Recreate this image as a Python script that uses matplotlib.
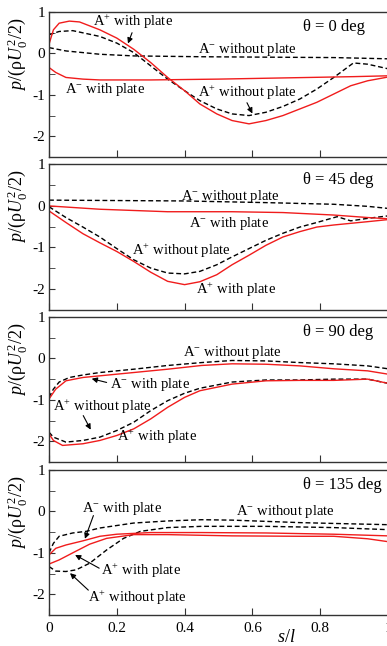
import numpy as np
import matplotlib as mpl
mpl.use('Agg')
import matplotlib.pyplot as plt
from matplotlib.ticker import MultipleLocator, FormatStrFormatter

plt.rcParams['font.family'] = ['Liberation Serif', 'DejaVu Serif']
plt.rcParams['mathtext.fontset'] = 'custom'
plt.rcParams['mathtext.rm'] = 'Liberation Serif'
plt.rcParams['mathtext.it'] = 'Liberation Serif:italic'
plt.rcParams['axes.unicode_minus'] = False

# ---- data: (s/l, p/(rho U0^2/2)) ----
# theta = 0 deg
s0_ap_wp = [0.0, 0.013, 0.03, 0.06, 0.09, 0.15, 0.2, 0.25, 0.3, 0.35, 0.4, 0.445, 0.495, 0.54, 0.59, 0.64, 0.69, 0.74, 0.79, 0.84, 0.89, 0.94, 1.0]
p0_ap_wp = [0.22, 0.57, 0.73, 0.78, 0.76, 0.57, 0.37, 0.1, -0.22, -0.58, -0.9, -1.22, -1.46, -1.62, -1.7, -1.62, -1.5, -1.34, -1.18, -0.98, -0.78, -0.66, -0.57]
s0_am_wp = [0.0, 0.02, 0.05, 0.1, 0.15, 0.3, 0.5, 0.7, 0.9, 1.0]
p0_am_wp = [-0.34, -0.46, -0.58, -0.62, -0.64, -0.64, -0.62, -0.59, -0.56, -0.54]
s0_ap_np = [0.0, 0.03, 0.07, 0.15, 0.2, 0.25, 0.3, 0.35, 0.4, 0.445, 0.495, 0.54, 0.59, 0.64, 0.69, 0.74, 0.79, 0.84, 0.898, 0.94, 1.0]
p0_ap_np = [0.45, 0.53, 0.55, 0.41, 0.25, 0.02, -0.3, -0.62, -0.9, -1.14, -1.34, -1.46, -1.5, -1.42, -1.28, -1.1, -0.86, -0.58, -0.23, -0.26, -0.37]
s0_am_np = [0.0, 0.05, 0.15, 0.25, 0.45, 0.64, 0.84, 1.0]
p0_am_np = [0.14, 0.06, -0.02, -0.06, -0.08, -0.09, -0.1, -0.13]

# theta = 45 deg
s45_ap_wp = [0.0, 0.05, 0.1, 0.15, 0.2, 0.25, 0.3, 0.35, 0.4, 0.445, 0.495, 0.54, 0.59, 0.64, 0.69, 0.74, 0.79, 0.84, 0.89, 0.94, 1.0]
p45_ap_wp = [-0.12, -0.4, -0.67, -0.89, -1.1, -1.34, -1.6, -1.82, -1.9, -1.83, -1.66, -1.42, -1.19, -0.95, -0.75, -0.62, -0.51, -0.46, -0.42, -0.38, -0.33]
s45_am_wp = [0.0, 0.15, 0.35, 0.54, 0.69, 0.84, 0.94, 1.0]
p45_am_wp = [0.0, -0.08, -0.14, -0.14, -0.16, -0.22, -0.28, -0.31]
s45_ap_np = [0.0, 0.05, 0.1, 0.15, 0.2, 0.25, 0.3, 0.35, 0.4, 0.445, 0.495, 0.54, 0.59, 0.64, 0.69, 0.74, 0.79, 0.85, 0.89, 0.94, 1.0]
p45_ap_np = [-0.02, -0.28, -0.51, -0.75, -1.03, -1.3, -1.5, -1.62, -1.64, -1.58, -1.42, -1.23, -1.03, -0.83, -0.66, -0.51, -0.4, -0.26, -0.36, -0.3, -0.24]
s45_am_np = [0.0, 0.2, 0.4, 0.64, 0.84, 0.94, 1.0]
p45_am_np = [0.14, 0.13, 0.12, 0.08, 0.04, -0.01, -0.06]

# theta = 90 deg
s90_am_np = [0.0, 0.013, 0.03, 0.06, 0.1, 0.15, 0.25, 0.35, 0.45, 0.54, 0.64, 0.74, 0.84, 0.94, 1.0]
p90_am_np = [-0.94, -0.74, -0.57, -0.46, -0.4, -0.34, -0.26, -0.17, -0.1, -0.05, -0.06, -0.1, -0.13, -0.18, -0.25]
s90_am_wp = [0.0, 0.02, 0.05, 0.1, 0.15, 0.25, 0.35, 0.45, 0.54, 0.64, 0.74, 0.84, 0.94, 1.0]
p90_am_wp = [-0.98, -0.74, -0.54, -0.46, -0.42, -0.34, -0.26, -0.17, -0.13, -0.14, -0.18, -0.25, -0.3, -0.38]
s90_ap_np = [0.0, 0.013, 0.05, 0.1, 0.15, 0.2, 0.25, 0.3, 0.35, 0.4, 0.445, 0.54, 0.64, 0.74, 0.84, 0.94, 1.0]
p90_ap_np = [-1.78, -1.9, -2.02, -1.98, -1.9, -1.74, -1.54, -1.26, -1.02, -0.84, -0.72, -0.57, -0.52, -0.52, -0.5, -0.5, -0.6]
s90_ap_wp = [0.0, 0.013, 0.04, 0.1, 0.15, 0.2, 0.25, 0.3, 0.35, 0.4, 0.445, 0.54, 0.64, 0.74, 0.84, 0.94, 1.0]
p90_ap_wp = [-1.82, -1.98, -2.1, -2.06, -1.98, -1.86, -1.7, -1.46, -1.18, -0.94, -0.78, -0.62, -0.54, -0.53, -0.53, -0.5, -0.6]

# theta = 135 deg
s135_am_np = [0.0, 0.013, 0.03, 0.07, 0.11, 0.15, 0.25, 0.35, 0.45, 0.54, 0.64, 0.74, 0.84, 1.0]
p135_am_np = [-1.0, -0.77, -0.6, -0.52, -0.48, -0.4, -0.28, -0.23, -0.2, -0.21, -0.24, -0.27, -0.29, -0.32]
s135_ap_np = [0.0, 0.02, 0.05, 0.08, 0.12, 0.17, 0.22, 0.27, 0.35, 0.45, 0.64, 0.84, 1.0]
p135_ap_np = [-1.33, -1.44, -1.45, -1.41, -1.25, -0.93, -0.65, -0.48, -0.39, -0.36, -0.36, -0.39, -0.44]
s135_am_wp = [0.0, 0.02, 0.05, 0.1, 0.15, 0.2, 0.3, 0.45, 0.64, 0.84, 1.0]
p135_am_wp = [-1.05, -0.89, -0.81, -0.71, -0.6, -0.55, -0.51, -0.51, -0.52, -0.55, -0.59]
s135_ap_wp = [0.0, 0.03, 0.07, 0.12, 0.17, 0.25, 0.35, 0.54, 0.74, 0.84, 0.94, 1.0]
p135_ap_wp = [-1.27, -1.17, -1.0, -0.79, -0.65, -0.56, -0.56, -0.59, -0.6, -0.6, -0.66, -0.73]

angles = ['0', '45', '90', '135']
red_curves = [
    [(s0_ap_wp, p0_ap_wp), (s0_am_wp, p0_am_wp)],
    [(s45_ap_wp, p45_ap_wp), (s45_am_wp, p45_am_wp)],
    [(s90_ap_wp, p90_ap_wp), (s90_am_wp, p90_am_wp)],
    [(s135_ap_wp, p135_ap_wp), (s135_am_wp, p135_am_wp)],
]
black_curves = [
    [(s0_ap_np, p0_ap_np), (s0_am_np, p0_am_np)],
    [(s45_ap_np, p45_ap_np), (s45_am_np, p45_am_np)],
    [(s90_ap_np, p90_ap_np), (s90_am_np, p90_am_np)],
    [(s135_ap_np, p135_ap_np), (s135_am_np, p135_am_np)],
]

APW = r'A$^{+}$ with plate'
AMW = r'A$^{-}$ with plate'
APN = r'A$^{+}$ without plate'
AMN = r'A$^{-}$ without plate'

# labels: (text, position in data coords)
labels = [
    [(APW, (0.13, 0.77)), (AMN, (0.44, 0.10)),
     (AMW, (0.047, -0.88)), (APN, (0.44, -0.95))],
    [(AMN, (0.39, 0.22)), (AMW, (0.414, -0.43)),
     (APN, (0.244, -1.09)), (APW, (0.434, -2.02))],
    [(AMN, (0.396, 0.15)), (AMW, (0.18, -0.62)),
     (APN, (0.011, -1.18)), (APW, (0.2, -1.9))],
    [(AMW, (0.096, 0.06)), (AMN, (0.552, 0.0)),
     (APW, (0.152, -1.44)), (APN, (0.116, -2.08))],
]
# arrows: (tail, head) per panel
arrows = [
    [((0.245, 0.5), (0.233, 0.24)), ((0.584, -1.19), (0.6, -1.45))],
    [],
    [((0.17, -0.58), (0.126, -0.49)), ((0.101, -1.38), (0.123, -1.72))],
    [((0.131, -0.1), (0.106, -0.66)), ((0.148, -1.37), (0.077, -1.05)),
     ((0.116, -1.9), (0.062, -1.49))],
]

W, H = 387, 646
fig = plt.figure(figsize=(W / 100, H / 100), dpi=100)
tops = [12, 164.5, 317, 470]
ph = 145
left, right = 49, 388

for i in range(4):
    ax = fig.add_axes([left / W, 1 - (tops[i] + ph) / H, (right - left) / W, ph / H])
    for s, p in black_curves[i]:
        ax.plot(s, p, color='k', lw=1.0, ls=(0, (3.5, 2)))
    for s, p in red_curves[i]:
        ax.plot(s, p, color='#f01c1c', lw=1.0)
    ax.set_xlim(0, 1)
    ax.set_ylim(-2.5, 1)
    ax.xaxis.set_major_locator(MultipleLocator(0.2))
    ax.yaxis.set_major_locator(MultipleLocator(1))
    ax.yaxis.set_minor_locator(MultipleLocator(0.5))
    ax.yaxis.set_major_formatter(FormatStrFormatter('%d'))
    ax.tick_params(which='both', direction='in', labelsize=11, color='#333333')
    ax.tick_params(axis='y', which='both', length=4, pad=3)
    ax.tick_params(axis='x', length=5, pad=5)
    for sp in ax.spines.values():
        sp.set_linewidth(1.0)
        sp.set_color('#333333')
    if i < 3:
        ax.tick_params(axis='x', labelbottom=False)
    else:
        ax.xaxis.set_major_formatter(FormatStrFormatter('%g'))
    ax.set_ylabel(r'$p$/(ρ$U_0^{\,2}$/2)', fontsize=13)
    ax.yaxis.set_label_coords(-0.06, 0.71)
    ax.text(0.75, 0.63, 'θ = %s deg' % angles[i], fontsize=12,
            ha='left', va='center')
    for txt, pos in labels[i]:
        ax.text(pos[0], pos[1], txt, fontsize=10.5, ha='left', va='center')
    for tail, head in arrows[i]:
        ax.annotate('', xy=head, xytext=tail,
                    arrowprops=dict(arrowstyle='-|>', lw=0.8, color='k',
                                    mutation_scale=8, shrinkA=0, shrinkB=0))

fig.text(286 / W, 1 - 637 / H, r'$s/l$', fontsize=13, ha='center', va='center')

fig.savefig('out.png', dpi=100)
